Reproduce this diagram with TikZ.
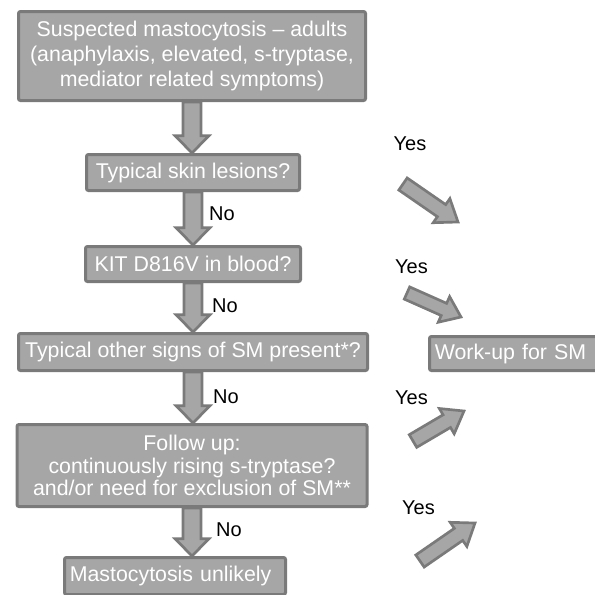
\documentclass[tikz,border=0pt]{standalone}
\usepackage{fontspec}
\setmainfont{Liberation Sans}
\usepackage{xcolor}
\usetikzlibrary{calc}
\definecolor{boxfill}{gray}{0.65}
\definecolor{boxline}{gray}{0.48}

% fat block arrow: from, to, half shaft, half head, head length
\newcommand\fatarrow[5]{%
  \draw[fat] let \p1=($(#2)-(#1)$), \n1={atan2(\y1,\x1)+90} in
    ($(#1)+(\n1:#3)$) -- ($(#2)!#5!(#1)+(\n1:#3)$) -- ($(#2)!#5!(#1)+(\n1:#4)$)
    -- (#2) -- ($(#2)!#5!(#1)-(\n1:#4)$) -- ($(#2)!#5!(#1)-(\n1:#3)$)
    -- ($(#1)-(\n1:#3)$) -- cycle;}

\begin{document}
\begin{tikzpicture}[x=0.75pt,y=-0.75pt,
  box/.style={draw=boxline,fill=boxfill,line width=2.25pt,rounded corners=1.5pt,
    text=white,inner sep=1pt,align=center,font=\fontsize{16}{17}\selectfont},
  lbl/.style={font=\fontsize{15}{16}\selectfont},
  fat/.style={draw=boxline,fill=boxfill,line width=2pt,line join=miter}]
\useasboundingbox (0,0) rectangle (595,594);

\node[box,minimum width=260.25pt,minimum height=66.75pt,font=\fontsize{16}{18.75}\selectfont]
  (susp) at (192,56) {Suspected mastocytosis -- adults\\(anaphylaxis, elevated, s-tryptase,\\mediator related symptoms)};
\node[box,minimum width=159.75pt,minimum height=27pt] (skin) at (193,172.5) {Typical skin lesions?};
\node[box,minimum width=161.25pt,minimum height=26.25pt] (kit) at (193,264) {KIT D816V in blood?};
\node[box,minimum width=261.75pt,minimum height=27.75pt] (signs) at (193,352) {Typical other signs of SM present*?};
\node[box,minimum width=262.5pt,minimum height=61.5pt] (follow) at (192,465.5)
  {Follow up:\\continuously rising s-tryptase?\\and/or need for exclusion of SM**};
\node[box,inner xsep=4pt,text width=157.75pt,align=left,minimum height=27.75pt] (unlikely) at (175,576) {Mastocytosis unlikely};
\node[box,anchor=west,inner xsep=4pt,text width=118.75pt,align=left,minimum height=25.5pt] (workup) at (428,353.5) {Work-up for SM};

% down arrows
\fatarrow{susp.south}{susp.south |- skin.north}{6.75pt}{12.75pt}{13pt}
\fatarrow{skin.south}{skin.south |- kit.north}{6.75pt}{12.75pt}{13pt}
\fatarrow{kit.south}{kit.south |- signs.north}{6.75pt}{12.75pt}{13pt}
\fatarrow{signs.south}{signs.south |- follow.north}{6.75pt}{12.75pt}{13pt}
\fatarrow{follow.south}{follow.south |- unlikely.north}{6.75pt}{12.75pt}{13pt}

\node[lbl] (no1) at (222,214) {No};
\node[lbl] (no2) at (225,306) {No};
\node[lbl] (no3) at (226,397) {No};
\node[lbl] (no4) at (229,530) {No};

% yes arrows
\coordinate (y1a) at (403,184); \coordinate (y1b) at (458,222);
\coordinate (y2a) at (407,293); \coordinate (y2b) at (461,317);
\coordinate (y3a) at (413,441); \coordinate (y3b) at (464,411);
\coordinate (y4a) at (420,561); \coordinate (y4b) at (475,523);
\fatarrow{y1a}{y1b}{5.5pt}{11pt}{15pt}
\fatarrow{y2a}{y2b}{5pt}{10.5pt}{14pt}
\fatarrow{y3a}{y3b}{5.5pt}{11pt}{15pt}
\fatarrow{y4a}{y4b}{5.5pt}{11pt}{15pt}

\node[lbl] (yes1) at (410,144) {Yes};
\node[lbl] (yes2) at (411.5,267) {Yes};
\node[lbl] (yes3) at (411.5,398) {Yes};
\node[lbl] (yes4) at (418.5,508) {Yes};
\end{tikzpicture}
\end{document}
